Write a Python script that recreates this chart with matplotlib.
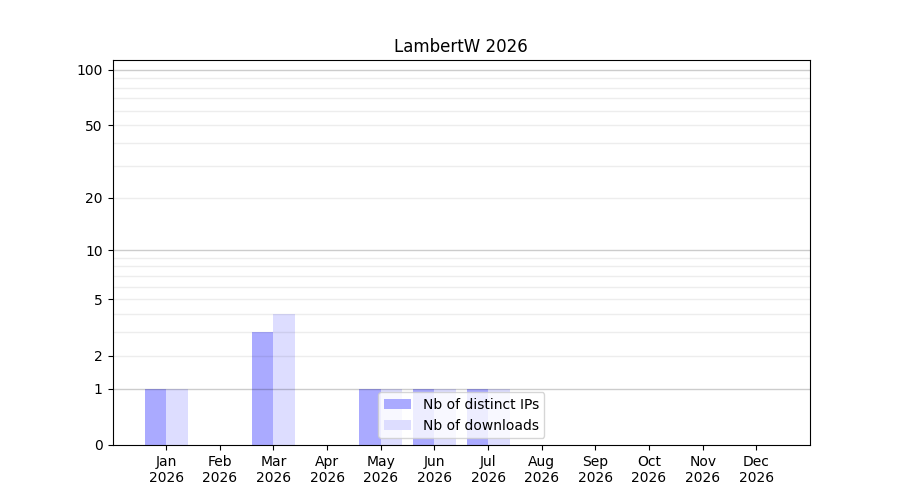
import numpy as np
import matplotlib
matplotlib.use("Agg")
import matplotlib.pyplot as plt

months = ['Jan', 'Feb', 'Mar', 'Apr', 'May', 'Jun',
          'Jul', 'Aug', 'Sep', 'Oct', 'Nov', 'Dec']
year = 2026
distinct_ips = [1, 0, 3, 0, 1, 1, 1, 0, 0, 0, 0, 0]
downloads = [1, 0, 4, 0, 1, 1, 1, 0, 0, 0, 0, 0]
yticks = [0, 1, 2, 5, 10, 20, 50, 100]


def fwd(v):
    return np.log10(1 + np.clip(v, 0, None))


def inv(v):
    return 10 ** v - 1


fig, ax = plt.subplots(figsize=(9, 5), dpi=100)
ax.set_yscale('function', functions=(fwd, inv))

x = np.arange(len(months))
ax.bar(x, distinct_ips, width=-0.4, align='edge', color='#aaaaff',
       label='Nb of distinct IPs', zorder=1)
ax.bar(x, downloads, width=0.4, align='edge', color='#ddddff',
       label='Nb of downloads', zorder=1)

# grid lines on top of bars (semi-transparent): decades darker, the rest light
for d in [1, 10, 100]:
    ax.axhline(d, color='black', alpha=0.2, linewidth=1, zorder=2)
    for k in range(2, 10):
        if d * k <= 100:
            ax.axhline(d * k, color='black', alpha=0.07, linewidth=1, zorder=2)

ax.set_xlim(-1, 12)
ax.set_ylim(0, 113)
ax.set_yticks(yticks)
ax.set_yticklabels([str(t) for t in yticks])
ax.yaxis.set_minor_locator(matplotlib.ticker.NullLocator())
ax.set_xticks(x)
ax.set_xticklabels([f'{m}\n{year}' for m in months])
ax.set_title(f'LambertW {year}')
ax.legend(loc='lower center')

fig.savefig('out.png')
